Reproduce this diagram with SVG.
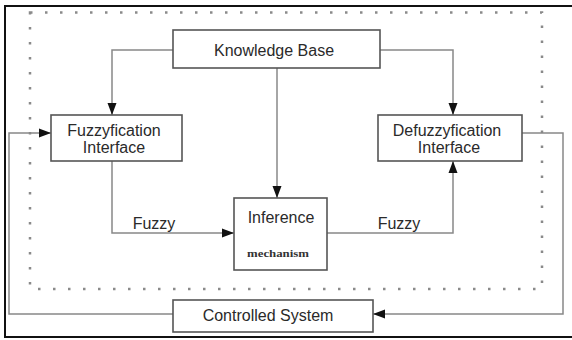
<svg xmlns="http://www.w3.org/2000/svg" width="572" height="340" viewBox="0 0 572 340">
<style>
.box{fill:#fff;stroke:#555;stroke-width:1.6}
.ln{fill:none;stroke:#888;stroke-width:1.5}
.t{font-family:"Liberation Sans",Arial,sans-serif;font-size:16px;fill:#2a2a2a;text-anchor:middle}
.dot{fill:none;stroke:#8a8a8a;stroke-width:2.5;stroke-dasharray:2.5 12.5}
</style>
<defs>
<marker id="ah" viewBox="0 0 12 10" refX="12" refY="5" markerWidth="12" markerHeight="10" markerUnits="userSpaceOnUse" orient="auto">
<path d="M0,0.5 L12,5 L0,9.5 Z" fill="#111"/>
</marker>
</defs>
<rect width="572" height="340" fill="#fff"/>
<rect x="5" y="6" width="570" height="331" fill="none" stroke="#111" stroke-width="2"/>
<rect class="dot" x="30" y="12.5" width="512" height="276.5"/>
<g id="connectors">
<path class="ln" d="M173,50 H112 V115" marker-end="url(#ah)"/>
<path class="ln" d="M380,50 H453 V115" marker-end="url(#ah)"/>
<path class="ln" d="M277,68 V198" marker-end="url(#ah)"/>
<path class="ln" d="M112,161 V233 H234" marker-end="url(#ah)"/>
<path class="ln" d="M327,233 H453 V161" marker-end="url(#ah)"/>
<path class="ln" d="M522,133 H563 V314 H373" marker-end="url(#ah)"/>
<path class="ln" d="M173,314 H9 V133 H51" marker-end="url(#ah)"/>
<text class="t" x="154" y="229">Fuzzy</text>
<text class="t" x="399" y="229">Fuzzy</text>
</g>
<g id="kb">
<rect class="box" x="173" y="30" width="207" height="38"/>
<text class="t" x="274" y="56">Knowledge Base</text>
</g>
<g id="fuzz">
<rect class="box" x="51" y="115" width="131" height="46"/>
<text class="t" x="114" y="136">Fuzzyfication</text>
<text class="t" x="114" y="153">Interface</text>
</g>
<g id="defuzz">
<rect class="box" x="378" y="115" width="144" height="46"/>
<text class="t" x="447" y="136">Defuzzyfication</text>
<text class="t" x="449" y="153">Interface</text>
</g>
<g id="inference">
<rect class="box" x="234" y="198" width="93" height="72"/>
<text class="t" x="281" y="223">Inference</text>
<text x="247" y="257" font-family="'Liberation Serif','Times New Roman',serif" font-size="11" font-weight="bold" fill="#333" textLength="62" lengthAdjust="spacingAndGlyphs">mechanism</text>
</g>
<g id="controlled">
<rect class="box" x="173" y="300" width="200" height="32"/>
<text class="t" x="268" y="321">Controlled System</text>
</g>
</svg>
